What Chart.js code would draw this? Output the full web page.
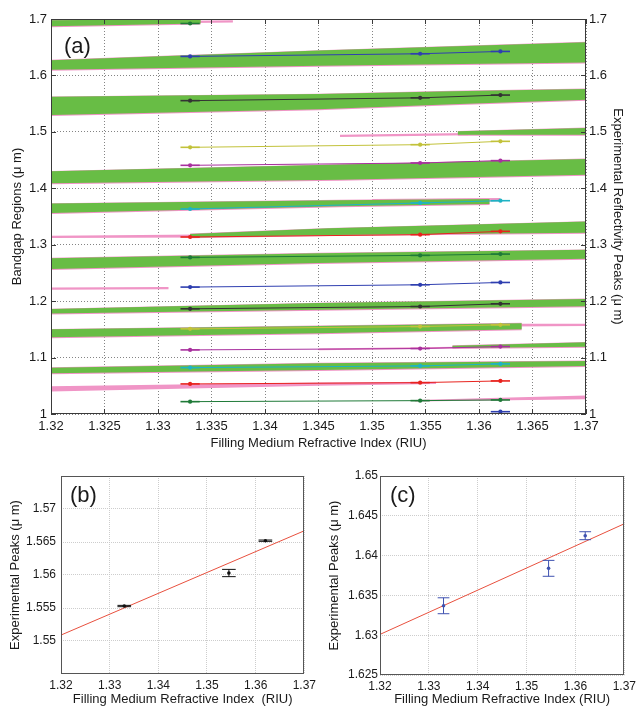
<!DOCTYPE html>
<html><head><meta charset="utf-8">
<script src="https://cdn.jsdelivr.net/npm/chart.js@4.4.1/dist/chart.umd.min.js"></script>
<style>
html,body{margin:0;padding:0;background:#fff;}
#wrap{position:relative;width:640px;height:708px;overflow:hidden;background:#fff;}
canvas{position:absolute;}
</style></head><body>
<div id="wrap">
<canvas id="ca" width="640" height="460" style="left:0;top:0"></canvas>
<canvas id="cb" width="320" height="248" style="left:0;top:460px"></canvas>
<canvas id="cc" width="320" height="248" style="left:320px;top:460px"></canvas>
</div>
<script>
// ================= DATA =================
const xTicksA = [1.32,1.325,1.33,1.335,1.34,1.345,1.35,1.355,1.36,1.365,1.37];
const yTicksA = [1,1.1,1.2,1.3,1.4,1.5,1.6,1.7];
const xTicksBC = [1.32,1.33,1.34,1.35,1.36,1.37];
const yTicksB = [1.55,1.555,1.56,1.565,1.57];
const yTicksC = [1.625,1.63,1.635,1.64,1.645,1.65];

// bandgap regions (green): rows [RIU, lower edge, upper edge]
const gapA = [[1.32,1.687,1.698],[1.334,1.692,1.700]];
const gapB = [[1.32,1.610,1.627],[1.345,1.617,1.644],[1.37,1.623,1.659]];
const gapC = [[1.32,1.530,1.562],[1.345,1.540,1.567],[1.3575,1.549,1.572],[1.37,1.557,1.576]];
const gapP = [[1.358,1.495,1.501],[1.37,1.495,1.507]];
const gapD = [[1.32,1.409,1.430],[1.347,1.415,1.442],[1.37,1.424,1.452]];
const gapE = [[1.32,1.356,1.373],[1.347,1.368,1.379],[1.361,1.372,1.381]];
const gapF = [[1.333,1.313,1.319],[1.346,1.317,1.329],[1.37,1.321,1.341]];
const gapG = [[1.32,1.257,1.276],[1.345,1.2675,1.285],[1.37,1.275,1.291]];
const gapI = [[1.32,1.178,1.186],[1.345,1.1846,1.1965],[1.37,1.191,1.204]];
const gapJ = [[1.32,1.136,1.150],[1.345,1.143,1.156],[1.364,1.150,1.161]];
const gapQ = [[1.3575,1.117,1.121],[1.37,1.119,1.127]];
const gapK = [[1.32,1.072,1.082],[1.345,1.078,1.090],[1.37,1.085,1.094]];

// second computation (pink) where it shows alone
const pinkA = [[1.333,1.693,1.697],[1.337,1.694,1.698]];
const pinkP = [[1.347,1.491,1.495],[1.359,1.494,1.498]];
const pinkE = [[1.35,1.375,1.381],[1.362,1.377,1.383]];
const pinkF = [[1.32,1.312,1.316],[1.334,1.313,1.318]];
const pinkH = [[1.32,1.220,1.224],[1.331,1.221,1.225]];
const pinkJ = [[1.363,1.155,1.160],[1.37,1.156,1.160]];
const pinkQ = [[1.345,1.113,1.116],[1.358,1.116,1.119]];
const pinkL = [[1.32,1.040,1.049],[1.345,1.050,1.056],[1.356,1.053,1.057]];
const pinkM = [[1.354,1.022,1.025],[1.37,1.026,1.033]];

// experimental reflectivity peaks (µm) at three filling indices
const peakX = [1.333, 1.3545, 1.362];
const peakXErr = [0.0009, 0.0009, 0.0009];
const peak01 = [1.692, null, null];
const peak02 = [1.6337, 1.6384, 1.6425];
const peak03 = [1.5553, 1.5603, 1.5652];
const peak04 = [1.4726, 1.4773, 1.4832];
const peak05 = [1.4407, 1.4448, 1.4490];
const peak06 = [1.3633, 1.3740, 1.3780];
const peak07 = [1.3137, 1.3178, 1.3237];
const peak08 = [1.2775, 1.2811, 1.2834];
const peak09 = [1.2249, 1.2290, 1.2331];
const peak10 = [1.1864, 1.1905, 1.1953];
const peak11 = [1.1509, 1.1550, 1.1580];
const peak12 = [1.1136, 1.1160, 1.1195];
const peak13 = [1.0822, 1.0852, 1.0888];
const peak14 = [1.0533, 1.0556, 1.0586];
const peak15 = [1.0219, 1.0237, 1.0249];
const peak16 = [null, null, 1.0041];

// panel (b) and (c)
const fitX = [1.32, 1.37];
const fitB = [1.5509, 1.5667];
const peaksB = [1.5553, 1.5603, 1.5652];
const errB = [0.0001, 0.00055, 0.0001];
const fitC = [1.6301, 1.6440];
const peaksC = [1.6337, 1.6384, 1.6425];
const errC = [0.0010, 0.0010, 0.0005];

// ================= STYLE =================
const FONT = "'Liberation Sans', Arial, Helvetica, sans-serif";
const GREEN = '#68bd45';
const PINK = '#f095c6';
const C_BLUE='#2f3fb0', C_GREEN='#1f7a38', C_RED='#e8231e', C_CYAN='#1fb3c4',
      C_MAG='#a8309e', C_YEL='#c2c23a', C_BLK='#333333';
const peakSeries = [
  [peak01,C_GREEN],[peak02,C_BLUE],[peak03,C_BLK],[peak04,C_YEL],[peak05,C_MAG],
  [peak06,C_CYAN],[peak07,C_RED],[peak08,C_GREEN],[peak09,C_BLUE],[peak10,C_BLK],
  [peak11,C_YEL],[peak12,C_MAG],[peak13,C_CYAN],[peak14,C_RED],[peak15,C_GREEN],[peak16,C_BLUE]
];
const fmt = v => String(+Number(v).toFixed(4));

function band(rows, color, order, dLo, dHi) {
  return [
    {data: rows.map(r => ({x:r[0], y:r[2]+dHi})), fill:'+1', backgroundColor:color,
     borderColor:'rgba(0,0,0,0)', borderWidth:1, pointRadius:0, order},
    {data: rows.map(r => ({x:r[0], y:r[1]-dLo})), fill:false,
     borderColor:'rgba(0,0,0,0)', borderWidth:1, pointRadius:0, order}
  ];
}
function seg(x1,y1,x2,y2,color,w,order){
  return {data:[{x:x1,y:y1},{x:x2,y:y2}], borderColor:color, borderWidth:w,
          pointRadius:0, fill:false, order};
}

const framePlugin = {
  id:'frame',
  afterDraw(chart, args, opts){
    const {ctx, chartArea:a} = chart;
    ctx.save();
    ctx.strokeStyle = opts.color || '#333';
    ctx.lineWidth = 1;
    ctx.strokeRect(Math.round(a.left)+0.5, Math.round(a.top)+0.5,
                   Math.round(a.right-a.left)-1, Math.round(a.bottom-a.top)-1);
    if (opts.ticks) {
      const L = 5;
      ctx.beginPath();
      chart.scales.x.ticks.forEach(t => {
        const p = Math.round(chart.scales.x.getPixelForValue(t.value))+0.5;
        ctx.moveTo(p, a.bottom); ctx.lineTo(p, a.bottom-L);
        ctx.moveTo(p, a.top); ctx.lineTo(p, a.top+L);
      });
      chart.scales.y.ticks.forEach(t => {
        const p = Math.round(chart.scales.y.getPixelForValue(t.value))+0.5;
        ctx.moveTo(a.left, p); ctx.lineTo(a.left+L, p);
        ctx.moveTo(a.right, p); ctx.lineTo(a.right-L, p);
      });
      ctx.stroke();
    }
    if (opts.label) {
      ctx.fillStyle = '#1a1a1a';
      ctx.font = '22px ' + FONT;
      ctx.textBaseline = 'alphabetic';
      ctx.fillText(opts.label, a.left + opts.lx, a.top + opts.ly);
    }
    ctx.restore();
  }
};

function axisX(ticksArr, title, fontSize, h, tpad, titlePadBottom, gridColor, dash){
  return {
    type:'linear', min: ticksArr[0], max: ticksArr[ticksArr.length-1],
    afterBuildTicks: ax => { ax.ticks = ticksArr.map(v => ({value:v})); },
    afterFit: ax => { ax.height = h; },
    ticks:{ callback: v => fmt(v), font:{size:fontSize, family:FONT}, color:'#1a1a1a',
            padding:tpad, maxRotation:0, autoSkip:false },
    grid:{ color:gridColor, drawTicks:false, lineWidth:1 },
    border:{ display:false, dash:dash },
    title:{ display:true, text:title, font:{size:13, family:FONT}, color:'#1a1a1a',
            padding:{top:0, bottom:titlePadBottom} }
  };
}
function axisY(min, max, ticksArr, title, fontSize, w, tpad, titlePad, pos, gridColor, dash, grid){
  return {
    type:'linear', min, max, position:pos,
    afterBuildTicks: ax => { ax.ticks = ticksArr.map(v => ({value:v})); },
    afterFit: ax => { ax.width = w; },
    ticks:{ callback: v => fmt(v), font:{size:fontSize, family:FONT}, color:'#1a1a1a',
            padding:tpad, autoSkip:false },
    grid:{ display:grid, color:gridColor, drawTicks:false, lineWidth:1 },
    border:{ display:false, dash:dash },
    title:{ display:true, text:title, font:{size:13, family:FONT}, color:'#1a1a1a',
            padding:{top:titlePad, bottom:0} }
  };
}

const common = {
  responsive:false, animation:false, devicePixelRatio:1,
  events:[],
  plugins:{ legend:{display:false}, tooltip:{enabled:false} },
  elements:{ line:{ tension:0 } }
};

// ================= PANEL (a) =================
const dsA = [];
const gaps = [gapA,gapB,gapC,gapP,gapD,gapE,gapF,gapG,gapI,gapJ,gapQ,gapK];
gaps.forEach(g => dsA.push(...band(g, PINK, 4, 0.0017, 0.0007)));
[pinkA,pinkP,pinkE,pinkF,pinkH,pinkJ,pinkQ,pinkL,pinkM].forEach(g => dsA.push(...band(g, PINK, 4, 0, 0)));
gaps.forEach(g => dsA.push(...band(g, GREEN, 3, 0, 0)));
peakSeries.forEach(([vals, col]) => {
  const pts = [];
  peakX.forEach((x,j) => { if (vals[j] != null) pts.push({x, y: vals[j]}); });
  dsA.push({data:pts, borderColor:col, backgroundColor:col, borderWidth:1,
            pointRadius:2.1, pointBorderWidth:0, pointBackgroundColor:col, fill:false, order:1});
  pts.forEach(p => {
    const e = peakXErr[peakX.indexOf(p.x)];
    dsA.push(seg(p.x-e, p.y, p.x+e, p.y, col, 1.6, 0));
  });
});

new Chart(document.getElementById('ca'), {
  type:'line',
  data:{ datasets: dsA },
  options: Object.assign({}, common, {
    layout:{ padding:{ top:19, left:0, right:0, bottom:0 } },
    scales:{
      x: axisX(xTicksA, 'Filling Medium Refractive Index (RIU)', 13, 46, 5, 9, 'rgba(110,110,110,0.85)', [1,2]),
      y: axisY(1, 1.7, yTicksA, 'Bandgap Regions (\u03bc m)', 13, 51, 4, 10, 'left', 'rgba(110,110,110,0.85)', [1,2], true),
      y2: axisY(1, 1.7, yTicksA, 'Experimental Reflectivity Peaks (\u03bc m)', 13, 54, 3, 15, 'right', '#999', [], false)
    },
    plugins: Object.assign({}, common.plugins, { frame:{ color:'#3a3a3a', ticks:true, label:'(a)', lx:13, ly:34 } })
  }),
  plugins:[framePlugin]
});

// ================= PANELS (b), (c) =================
function smallPanel(id, yMin, yMax, yTicks, fit, peaks, errs, col, capW, yW, yPad, titlePad, padRight, xH) {
  const ds = [];
  ds.push({data: fitX.map((x,i)=>({x, y:fit[i]})), borderColor:'#e8503e', borderWidth:1,
           pointRadius:0, fill:false, order:3});
  peaks.forEach((y,i) => {
    const x = peakX[i], e = errs[i];
    ds.push(seg(x, y-e, x, y+e, col, 1, 1));
    ds.push(seg(x-capW, y-e, x+capW, y-e, col, 1, 1));
    ds.push(seg(x-capW, y+e, x+capW, y+e, col, 1, 1));
  });
  ds.push({data: peaks.map((y,i)=>({x:peakX[i], y})), showLine:false, pointRadius:1.8,
           pointBorderWidth:0, pointBackgroundColor:col, borderColor:col, fill:false, order:0});
  return { ds, opts: {
    layout:{ padding:{ top:16, left:0, right:padRight, bottom:0 } },
    scales:{
      x: axisX(xTicksBC, id==='cb' ? 'Filling Medium Refractive Index  (RIU)' : 'Filling Medium Refractive Index (RIU)',
               12, xH, 4, 1, 'rgba(200,200,200,0.9)', [1,1]),
      y: axisY(yMin, yMax, yTicks, 'Experimental Peaks (\u03bc m)', 12, yW, yPad, titlePad, 'left',
               'rgba(200,200,200,0.9)', [1,1], true)
    }
  }};
}

const pb = smallPanel('cb', 1.545, 1.575, yTicksB, fitB, peaksB, errB, '#111111', 0.0014, 61, 5, 8, 12, 34);
new Chart(document.getElementById('cb'), {
  type:'line', data:{datasets: pb.ds},
  options: Object.assign({}, common, pb.opts, {
    plugins: Object.assign({}, common.plugins, { frame:{ color:'#555', label:'(b)', lx:9, ly:26 } })
  }),
  plugins:[framePlugin]
});

const pc = smallPanel('cc', 1.625, 1.65, yTicksC, fitC, peaksC, errC, '#3f52b0', 0.0012, 60, 2, 7, 13, 33);
new Chart(document.getElementById('cc'), {
  type:'line', data:{datasets: pc.ds},
  options: Object.assign({}, common, pc.opts, {
    plugins: Object.assign({}, common.plugins, { frame:{ color:'#555', label:'(c)', lx:10, ly:26 } })
  }),
  plugins:[framePlugin]
});
</script>
</body></html>
